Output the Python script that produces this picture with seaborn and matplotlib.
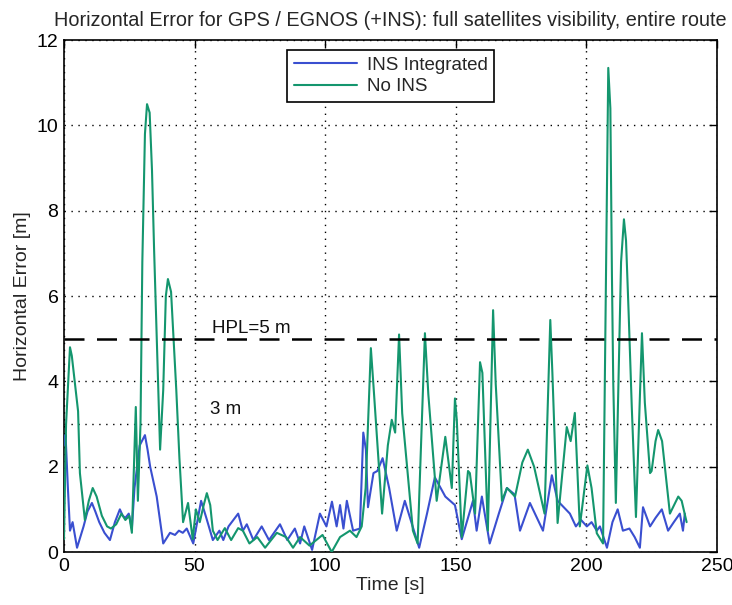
import matplotlib
matplotlib.use("Agg")
import matplotlib.pyplot as plt
import seaborn as sns
import pandas as pd

# ---- data ----
t_noins = [0, 0.8, 2.3, 3.0, 4.2, 5.4, 6.1, 8.0, 9.5, 11.0, 12.5, 14.5, 16.5, 18.0, 20.0,
           22.0, 23.5, 25.0, 26.0,
           27.5, 28.3, 29.3, 30.0, 31.0, 31.8, 32.8, 33.7, 34.5, 36.8, 38.0, 39.0, 39.8, 41.0,
           43.0, 44.2, 45.6, 47.5, 49.3, 50.5, 52.0, 53.5, 54.7, 56.0, 57.0, 58.8, 61.6,
           64.0, 66.7,
           68.5, 71.0, 74.0, 77.0, 81.5, 85.0, 87.7, 90.4, 94.0, 99.0, 102.5, 105.7,
           109.5, 112.0, 114.0, 115.5, 117.5, 118.5, 121.8, 124.0, 125.5, 126.8, 128.3, 129.5,
           133.6, 135.4, 138.2, 139.5, 142.7, 146.0, 148.5, 149.7, 150.4, 152.3, 154.7,
           155.4, 157.4, 159.3, 160.2, 162.3, 164.3, 165.3, 167.7, 169.6, 172.7, 175.5, 177.6,
           180.0, 184.0, 186.2, 187.0, 189.0, 192.5, 194.0, 195.6, 197.5, 200.4, 202.0, 204.0,
           206.4, 207.9, 208.4, 209.2, 209.8, 210.3, 211.3, 213.3, 214.4, 215.2, 216.2,
           217.4, 219.0, 221.3, 222.4, 224.4, 225.0, 226.5, 227.5, 229.0, 232.0, 234.0, 235.2,
           236.5, 238.4]
v_noins = [0.3, 3.0, 4.8, 4.6, 3.96, 3.3, 1.85, 0.75, 1.2, 1.5, 1.3, 0.85, 0.6, 0.55, 0.65,
           0.9, 0.75, 0.85, 0.45,
           3.4, 1.2, 3.0, 6.8, 9.8, 10.5, 10.3, 8.95, 7.1, 2.4, 3.8, 6.0, 6.4, 6.1,
           3.8, 2.2, 0.7, 1.15, 0.3, 1.0, 0.7, 1.1, 1.38, 1.1, 0.5, 0.28, 0.56,
           0.28, 0.56,
           0.5, 0.2, 0.35, 0.1, 0.45, 0.35, 0.1, 0.35, 0.15, 0.4, 0.0, 0.35,
           0.5, 0.35, 0.6, 1.5, 4.78, 3.9, 0.9, 2.5, 3.1, 2.8, 5.1, 3.25,
           0.5, 0.2, 5.13, 3.7, 1.2, 2.7, 1.5, 3.6, 3.1, 0.35, 1.9,
           1.85, 0.9, 4.45, 4.2, 0.5, 5.67, 3.95, 1.2, 1.5, 1.3, 2.1, 2.4,
           2.0, 0.9, 5.44, 4.2, 0.68, 2.93, 2.6, 3.26, 0.6, 2.03, 1.5, 0.44,
           0.2, 8.7, 11.35, 10.4, 6.5, 4.0, 1.15, 6.8, 7.8, 7.3, 5.6,
           3.4, 0.82, 5.13, 3.5, 1.85, 1.9, 2.6, 2.86, 2.6, 0.9, 1.15, 1.3,
           1.2, 0.7]

t_ins = [0, 0.6, 1.5, 2.3, 3.3, 5.0, 7.5, 9.0, 10.7, 12.0, 13.5, 15.5, 17.6, 19.5, 21.4,
         22.5, 23.5, 24.8, 26.0,
         27.0, 29.0, 31.0, 32.0, 33.0, 35.5, 38.0, 40.6, 42.5, 44.0, 45.5, 47.0, 49.5, 51.0,
         52.5, 54.5, 57.0, 59.5,
         61.0, 63.0, 66.7, 68.5, 70.0, 72.5, 75.7, 78.5, 82.7, 85.5, 88.4, 90.4, 92.0,
         95.0, 98.0, 100.5, 102.6, 104.4, 105.7, 107.0, 108.3, 110.7, 113.3, 114.6, 115.6,
         116.4, 118.5, 120.0, 122.0, 124.5, 127.4, 130.5, 133.0, 136.0, 139.0, 142.0, 146.0,
         149.7, 152.3, 156.6,
         158.0, 160.0, 163.0, 166.5, 169.6, 172.5, 174.6, 178.4, 183.4, 186.8, 189.0, 193.7,
         196.0, 198.0, 200.2, 202.0, 204.0, 205.2, 207.9, 210.0, 212.0, 214.0, 216.5, 218.5,
         220.5, 221.7, 224.4, 226.5, 228.9, 231.3, 233.5, 235.8, 237.0, 237.7]
v_ins = [2.5, 2.75, 1.5, 0.5, 0.7, 0.1, 0.6, 0.95, 1.15, 0.95, 0.7, 0.45, 0.28, 0.7, 1.0,
         0.85, 0.8, 0.9, 0.55,
         1.5, 2.5, 2.74, 2.4, 2.0, 1.3, 0.2, 0.45, 0.4, 0.5, 0.45, 0.55, 0.2, 0.7,
         1.2, 0.8, 0.28, 0.5,
         0.28, 0.6, 0.9, 0.5, 0.65, 0.28, 0.6, 0.28, 0.65, 0.28, 0.55, 0.2, 0.6,
         0.05, 0.9, 0.6, 1.18, 0.6, 1.1, 0.55, 1.2, 0.5, 0.55, 2.8, 2.4,
         1.05, 1.85, 1.9, 2.2, 1.5, 0.5, 1.2, 0.7, 0.1, 0.9, 1.75, 1.3,
         1.1, 0.3, 1.2,
         0.5, 1.3, 0.2, 0.9, 1.5, 1.35, 0.5, 1.15, 0.5, 1.8, 1.2, 0.9,
         0.6, 0.75, 0.6, 0.7, 0.5, 0.6, 0.1, 0.7, 1.0, 0.5, 0.55, 0.35,
         0.1, 1.05, 0.6, 0.8, 1.0, 0.5, 0.7, 0.9, 0.5, 0.9]

series_names = ["INS Integrated", "No INS"]
hpl_level = 5
ref_level = 3
title = "Horizontal Error for GPS / EGNOS (+INS): full satellites visibility, entire route"
xlabel = "Time [s]"
ylabel = "Horizontal Error [m]"
xticks = [0, 50, 100, 150, 200, 250]
yticks = [0, 2, 4, 6, 8, 10, 12]

df = pd.concat([
    pd.DataFrame({"t": t_ins, "err": v_ins, "series": series_names[0]}),
    pd.DataFrame({"t": t_noins, "err": v_noins, "series": series_names[1]}),
], ignore_index=True)

sns.set_theme(style="white")
plt.rcParams["font.family"] = ["Liberation Sans", "DejaVu Sans"]

fig = plt.figure(figsize=(7.32, 6.05), dpi=100)
ax = fig.add_axes([0.0874, 0.0876, 0.892, 0.846])

palette = {series_names[0]: "#3a4fd0", series_names[1]: "#14966e"}
sns.lineplot(data=df, x="t", y="err", hue="series", palette=palette, estimator=None,
             sort=False, linewidth=1.5, ax=ax, zorder=3)
for ln in ax.get_lines():
    ln.set_solid_joinstyle("round")

ax.axhline(hpl_level, color="black", linestyle=(0, (8, 5)), linewidth=1.8, zorder=4)
ax.axhline(ref_level, color="black", linestyle=(0, (1, 4)), linewidth=1.0, zorder=1)
ax.text(56.5, 5.25, "HPL=5 m", fontsize=13.5, color="#111111", va="center", ha="left")
ax.text(56.0, 3.35, "3 m", fontsize=13.5, color="#111111", va="center", ha="left")

ax.set_xlim(0, 250)
ax.set_ylim(0, 12)
ax.set_xticks(xticks)
ax.set_yticks(yticks)
ax.grid(True, color="black", linestyle=(0, (1, 4)), linewidth=1.0)
ax.set_axisbelow(True)
for s in ax.spines.values():
    s.set_color("black")
    s.set_linewidth(1.2)
ax.tick_params(direction="in", length=6, width=1, top=True, right=True,
               labelsize=14, colors="black", pad=4)
ax.set_xlabel(xlabel, fontsize=14, labelpad=2)
ax.set_ylabel(ylabel, fontsize=14, labelpad=4)
ax.set_title(title, fontsize=14.3, pad=10)

leg = ax.legend(loc="upper left", bbox_to_anchor=(0.3415, 0.981), borderaxespad=0,
                fontsize=13.5, frameon=True, fancybox=False, edgecolor="black",
                framealpha=1, handlelength=3.4, handletextpad=0.5,
                borderpad=0.35, labelspacing=0.25)
leg.get_frame().set_linewidth(1.2)
leg.set_zorder(5)

fig.savefig("out.png", dpi=100, facecolor="white")
